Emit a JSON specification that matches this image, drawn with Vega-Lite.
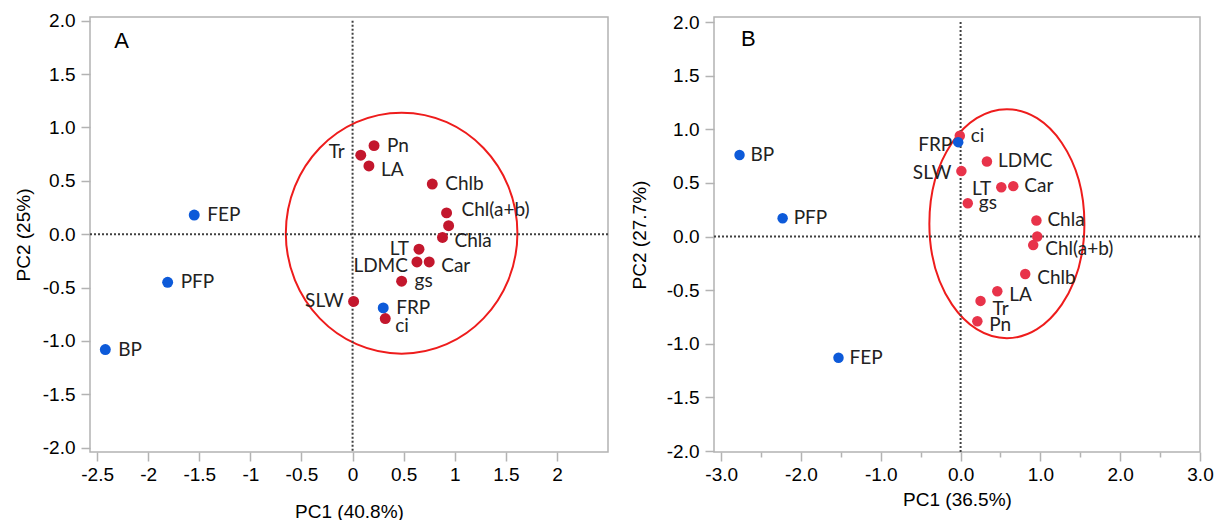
{
  "$schema": "https://vega.github.io/schema/vega-lite/v6.json",
  "padding": {"left": 13, "top": 10, "right": 0, "bottom": 0},
  "spacing": 19,
  "config": {
    "view": {"stroke": "#b3b3b3", "strokeWidth": 1.5},
    "axis": {
      "labelFont": "Liberation Sans", "labelFontSize": 19, "labelColor": "#000",
      "titleFont": "Liberation Sans", "titleFontSize": 19, "titleFontWeight": "normal", "titleColor": "#000",
      "tickColor": "#b3b3b3", "tickWidth": 1.5, "domain": false, "grid": false,
      "labelPadding": 6, "labelFlush": false, "labelOverlap": false
    }
  },
  "datasets": {
    "pcaA": [
      {"name": "Pn", "pc1": 0.21, "pc2": 0.83, "type": "variable"},
      {"name": "Tr", "pc1": 0.08, "pc2": 0.74, "type": "variable"},
      {"name": "LA", "pc1": 0.16, "pc2": 0.64, "type": "variable"},
      {"name": "Chlb", "pc1": 0.78, "pc2": 0.47, "type": "variable"},
      {"name": "Chl(a+b)", "pc1": 0.92, "pc2": 0.20, "type": "variable"},
      {"name": "(unlabeled)", "pc1": 0.94, "pc2": 0.08, "type": "variable"},
      {"name": "Chla", "pc1": 0.88, "pc2": -0.03, "type": "variable"},
      {"name": "LT", "pc1": 0.65, "pc2": -0.14, "type": "variable"},
      {"name": "LDMC", "pc1": 0.63, "pc2": -0.26, "type": "variable"},
      {"name": "Car", "pc1": 0.75, "pc2": -0.26, "type": "variable"},
      {"name": "gs", "pc1": 0.48, "pc2": -0.44, "type": "variable"},
      {"name": "SLW", "pc1": 0.01, "pc2": -0.63, "type": "variable"},
      {"name": "ci", "pc1": 0.32, "pc2": -0.79, "type": "variable"},
      {"name": "FEP", "pc1": -1.55, "pc2": 0.18, "type": "treatment"},
      {"name": "PFP", "pc1": -1.81, "pc2": -0.45, "type": "treatment"},
      {"name": "BP", "pc1": -2.42, "pc2": -1.08, "type": "treatment"},
      {"name": "FRP", "pc1": 0.30, "pc2": -0.69, "type": "treatment"}
    ],
    "pcaB": [
      {"name": "ci", "pc1": -0.01, "pc2": 0.94, "type": "variable"},
      {"name": "LDMC", "pc1": 0.33, "pc2": 0.70, "type": "variable"},
      {"name": "SLW", "pc1": 0.01, "pc2": 0.61, "type": "variable"},
      {"name": "LT", "pc1": 0.51, "pc2": 0.46, "type": "variable"},
      {"name": "Car", "pc1": 0.66, "pc2": 0.47, "type": "variable"},
      {"name": "gs", "pc1": 0.09, "pc2": 0.31, "type": "variable"},
      {"name": "Chla", "pc1": 0.95, "pc2": 0.15, "type": "variable"},
      {"name": "(unlabeled)", "pc1": 0.96, "pc2": 0.00, "type": "variable"},
      {"name": "Chl(a+b)", "pc1": 0.91, "pc2": -0.08, "type": "variable"},
      {"name": "Chlb", "pc1": 0.81, "pc2": -0.35, "type": "variable"},
      {"name": "LA", "pc1": 0.46, "pc2": -0.51, "type": "variable"},
      {"name": "Tr", "pc1": 0.25, "pc2": -0.60, "type": "variable"},
      {"name": "Pn", "pc1": 0.21, "pc2": -0.79, "type": "variable"},
      {"name": "BP", "pc1": -2.77, "pc2": 0.76, "type": "treatment"},
      {"name": "PFP", "pc1": -2.23, "pc2": 0.17, "type": "treatment"},
      {"name": "FEP", "pc1": -1.53, "pc2": -1.13, "type": "treatment"},
      {"name": "FRP", "pc1": -0.03, "pc2": 0.88, "type": "treatment"}
    ],
    "ellA": [{"pc1": 0.48, "pc2": 0.01}],
    "ellB": [{"pc1": 0.58, "pc2": 0.12}]
  },
  "hconcat": [
    {
      "width": 518,
      "height": 435,
      "layer": [
        {
          "data": {"name": "ellA"},
          "mark": {"type": "point", "filled": false, "stroke": "#ee1c1c", "strokeWidth": 2, "opacity": 1, "size": 58081,
            "shape": "M0.961,0C0.961,0.552 0.531,1 0,1C-0.531,1 -0.961,0.552 -0.961,0C-0.961,-0.552 -0.531,-1 0,-1C0.531,-1 0.961,-0.552 0.961,0Z"},
          "encoding": {
            "x": {"field": "pc1", "type": "quantitative",
              "scale": {"domain": [-2.57, 2.5], "nice": false, "zero": false},
              "axis": {"title": "PC1 (40.8%)",
                "values": [-2.5, -2.25, -2, -1.75, -1.5, -1.25, -1, -0.75, -0.5, -0.25, 0, 0.25, 0.5, 0.75, 1, 1.25, 1.5, 1.75, 2, 2.25],
                "labelExpr": "datum.value % 0.5 === 0 ? replace(format(datum.value, ''), '\u2212', '-') : ''",
                "tickSize": {"condition": {"test": "datum.value % 0.5 === 0", "value": 9}, "value": 5},
                "labelPadding": 4, "titlePadding": 18}},
            "y": {"field": "pc2", "type": "quantitative",
              "scale": {"domain": [-2.04, 2.035], "nice": false, "zero": false},
              "axis": {"title": "PC2 (25%)",
                "values": [-2, -1.75, -1.5, -1.25, -1, -0.75, -0.5, -0.25, 0, 0.25, 0.5, 0.75, 1, 1.25, 1.5, 1.75, 2],
                "labelExpr": "datum.value % 0.5 === 0 ? replace(format(datum.value, '.1f'), '\u2212', '-') : ''",
                "tickSize": {"condition": {"test": "datum.value % 0.5 === 0", "value": 9}, "value": 6},
                "titlePadding": 9}}
          }
        },
        {
          "data": {"values": [{}]},
          "mark": {"type": "rule", "color": "#404040", "strokeWidth": 2, "strokeDash": [2, 2]},
          "encoding": {"y": {"datum": 0, "type": "quantitative"}}
        },
        {
          "data": {"values": [{}]},
          "mark": {"type": "rule", "color": "#404040", "strokeWidth": 2, "strokeDash": [2, 2]},
          "encoding": {"x": {"datum": 0, "type": "quantitative"}, "y": {"datum": 2.0, "type": "quantitative"}, "y2": {"datum": -2.04}}
        },
        {
          "data": {"name": "pcaA"},
          "transform": [{"filter": "datum.type === 'variable'"}],
          "mark": {"type": "point", "filled": true, "color": "#c3172d", "opacity": 1, "size": 120},
          "encoding": {"x": {"field": "pc1", "type": "quantitative"}, "y": {"field": "pc2", "type": "quantitative"}}
        },
        {
          "data": {"name": "pcaA"},
          "transform": [{"filter": "datum.type === 'treatment'"}],
          "mark": {"type": "point", "filled": true, "color": "#0d5ad9", "opacity": 1, "size": 120},
          "encoding": {"x": {"field": "pc1", "type": "quantitative"}, "y": {"field": "pc2", "type": "quantitative"}}
        },
        {
          "data": {"name": "pcaA"},
          "transform": [{"filter": {"field": "name", "oneOf": ["Pn", "Chlb", "gs", "FRP", "FEP", "PFP", "BP"]}}],
          "mark": {"type": "text", "align": "left", "baseline": "middle", "dx": 13, "dy": 0, "font": "Lato", "fontSize": 19, "color": "#222"},
          "encoding": {"x": {"field": "pc1", "type": "quantitative"}, "y": {"field": "pc2", "type": "quantitative"}, "text": {"field": "name"}}
        },
        {
          "data": {"name": "pcaA"},
          "transform": [{"filter": {"field": "name", "oneOf": ["LA", "Car", "Chla"]}}],
          "mark": {"type": "text", "align": "left", "baseline": "middle", "dx": 12, "dy": 4, "font": "Lato", "fontSize": 19, "color": "#222"},
          "encoding": {"x": {"field": "pc1", "type": "quantitative"}, "y": {"field": "pc2", "type": "quantitative"}, "text": {"field": "name"}}
        },
        {
          "data": {"name": "pcaA"},
          "transform": [{"filter": {"field": "name", "oneOf": ["Chl(a+b)"]}}],
          "mark": {"type": "text", "align": "left", "baseline": "middle", "dx": 15, "dy": -3, "font": "Lato", "fontSize": 19, "color": "#222"},
          "encoding": {"x": {"field": "pc1", "type": "quantitative"}, "y": {"field": "pc2", "type": "quantitative"}, "text": {"field": "name"}}
        },
        {
          "data": {"name": "pcaA"},
          "transform": [{"filter": {"field": "name", "oneOf": ["ci"]}}],
          "mark": {"type": "text", "align": "left", "baseline": "middle", "dx": 10, "dy": 7, "font": "Lato", "fontSize": 19, "color": "#222"},
          "encoding": {"x": {"field": "pc1", "type": "quantitative"}, "y": {"field": "pc2", "type": "quantitative"}, "text": {"field": "name"}}
        },
        {
          "data": {"name": "pcaA"},
          "transform": [{"filter": {"field": "name", "oneOf": ["LT", "SLW"]}}],
          "mark": {"type": "text", "align": "right", "baseline": "middle", "dx": -10, "dy": 0, "font": "Lato", "fontSize": 19, "color": "#222"},
          "encoding": {"x": {"field": "pc1", "type": "quantitative"}, "y": {"field": "pc2", "type": "quantitative"}, "text": {"field": "name"}}
        },
        {
          "data": {"name": "pcaA"},
          "transform": [{"filter": {"field": "name", "oneOf": ["LDMC"]}}],
          "mark": {"type": "text", "align": "right", "baseline": "middle", "dx": -9, "dy": 4, "font": "Lato", "fontSize": 19, "color": "#222"},
          "encoding": {"x": {"field": "pc1", "type": "quantitative"}, "y": {"field": "pc2", "type": "quantitative"}, "text": {"field": "name"}}
        },
        {
          "data": {"name": "pcaA"},
          "transform": [{"filter": {"field": "name", "oneOf": ["Tr"]}}],
          "mark": {"type": "text", "align": "right", "baseline": "middle", "dx": -16, "dy": -3, "font": "Lato", "fontSize": 19, "color": "#222"},
          "encoding": {"x": {"field": "pc1", "type": "quantitative"}, "y": {"field": "pc2", "type": "quantitative"}, "text": {"field": "name"}}
        },
        {
          "data": {"values": [{}]},
          "mark": {"type": "text", "font": "Liberation Sans", "fontSize": 22, "color": "#000", "align": "center", "baseline": "middle"},
          "encoding": {"x": {"datum": -2.26, "type": "quantitative"}, "y": {"datum": 1.81, "type": "quantitative"}, "text": {"value": "A"}}
        }
      ]
    },
    {
      "width": 486,
      "height": 435,
      "layer": [
        {
          "data": {"name": "ellB"},
          "mark": {"type": "point", "filled": false, "stroke": "#ee1c1c", "strokeWidth": 2, "opacity": 1, "size": 52441,
            "shape": "M0.677,0C0.677,0.552 0.374,1 0,1C-0.374,1 -0.677,0.552 -0.677,0C-0.677,-0.552 -0.374,-1 0,-1C0.374,-1 0.677,-0.552 0.677,0Z"},
          "encoding": {
            "x": {"field": "pc1", "type": "quantitative",
              "scale": {"domain": [-3.09, 3.0], "nice": false, "zero": false},
              "axis": {"title": "PC1 (36.5%)",
                "values": [-3, -2.5, -2, -1.5, -1, -0.5, 0, 0.5, 1, 1.5, 2, 2.5, 3],
                "labelExpr": "datum.value % 1 === 0 ? replace(format(datum.value, '.1f'), '\u2212', '-') : ''",
                "tickSize": {"condition": {"test": "datum.value % 1 === 0", "value": 9}, "value": 5},
                "labelPadding": 4, "titlePadding": 6}},
            "y": {"field": "pc2", "type": "quantitative",
              "scale": {"domain": [-2.009, 2.047], "nice": false, "zero": false},
              "axis": {"title": "PC2 (27.7%)",
                "values": [-2, -1.75, -1.5, -1.25, -1, -0.75, -0.5, -0.25, 0, 0.25, 0.5, 0.75, 1, 1.25, 1.5, 1.75, 2],
                "labelExpr": "datum.value % 0.5 === 0 ? replace(format(datum.value, '.1f'), '\u2212', '-') : ''",
                "tickSize": {"condition": {"test": "datum.value % 0.5 === 0", "value": 9}, "value": 6},
                "titlePadding": 17}}
          }
        },
        {
          "data": {"values": [{}]},
          "mark": {"type": "rule", "color": "#404040", "strokeWidth": 2, "strokeDash": [2, 2]},
          "encoding": {"y": {"datum": 0, "type": "quantitative"}}
        },
        {
          "data": {"values": [{}]},
          "mark": {"type": "rule", "color": "#404040", "strokeWidth": 2, "strokeDash": [2, 2]},
          "encoding": {"x": {"datum": 0, "type": "quantitative"}, "y": {"datum": 2.0, "type": "quantitative"}, "y2": {"datum": -2.009}}
        },
        {
          "data": {"name": "pcaB"},
          "transform": [{"filter": "datum.type === 'variable'"}],
          "mark": {"type": "point", "filled": true, "color": "#e8334a", "opacity": 1, "size": 110},
          "encoding": {"x": {"field": "pc1", "type": "quantitative"}, "y": {"field": "pc2", "type": "quantitative"}}
        },
        {
          "data": {"name": "pcaB"},
          "transform": [{"filter": "datum.type === 'treatment'"}],
          "mark": {"type": "point", "filled": true, "color": "#0d5ad9", "opacity": 1, "size": 110},
          "encoding": {"x": {"field": "pc1", "type": "quantitative"}, "y": {"field": "pc2", "type": "quantitative"}}
        },
        {
          "data": {"name": "pcaB"},
          "transform": [{"filter": {"field": "name", "oneOf": ["ci", "LDMC", "Car", "gs", "Chla", "BP", "PFP", "FEP"]}}],
          "mark": {"type": "text", "align": "left", "baseline": "middle", "dx": 11, "dy": 0, "font": "Lato", "fontSize": 19, "color": "#222"},
          "encoding": {"x": {"field": "pc1", "type": "quantitative"}, "y": {"field": "pc2", "type": "quantitative"}, "text": {"field": "name"}}
        },
        {
          "data": {"name": "pcaB"},
          "transform": [{"filter": {"field": "name", "oneOf": ["Chlb", "LA", "Pn", "Chl(a+b)"]}}],
          "mark": {"type": "text", "align": "left", "baseline": "middle", "dx": 12, "dy": 4, "font": "Lato", "fontSize": 19, "color": "#222"},
          "encoding": {"x": {"field": "pc1", "type": "quantitative"}, "y": {"field": "pc2", "type": "quantitative"}, "text": {"field": "name"}}
        },
        {
          "data": {"name": "pcaB"},
          "transform": [{"filter": {"field": "name", "oneOf": ["Tr"]}}],
          "mark": {"type": "text", "align": "left", "baseline": "middle", "dx": 12, "dy": 8, "font": "Lato", "fontSize": 19, "color": "#222"},
          "encoding": {"x": {"field": "pc1", "type": "quantitative"}, "y": {"field": "pc2", "type": "quantitative"}, "text": {"field": "name"}}
        },
        {
          "data": {"name": "pcaB"},
          "transform": [{"filter": {"field": "name", "oneOf": ["SLW", "LT"]}}],
          "mark": {"type": "text", "align": "right", "baseline": "middle", "dx": -10, "dy": 2, "font": "Lato", "fontSize": 19, "color": "#222"},
          "encoding": {"x": {"field": "pc1", "type": "quantitative"}, "y": {"field": "pc2", "type": "quantitative"}, "text": {"field": "name"}}
        },
        {
          "data": {"name": "pcaB"},
          "transform": [{"filter": {"field": "name", "oneOf": ["FRP"]}}],
          "mark": {"type": "text", "align": "right", "baseline": "middle", "dx": -6, "dy": 3, "font": "Lato", "fontSize": 19, "color": "#222"},
          "encoding": {"x": {"field": "pc1", "type": "quantitative"}, "y": {"field": "pc2", "type": "quantitative"}, "text": {"field": "name"}}
        },
        {
          "data": {"values": [{}]},
          "mark": {"type": "text", "font": "Liberation Sans", "fontSize": 22, "color": "#000", "align": "center", "baseline": "middle"},
          "encoding": {"x": {"datum": -2.66, "type": "quantitative"}, "y": {"datum": 1.84, "type": "quantitative"}, "text": {"value": "B"}}
        }
      ]
    }
  ]
}
